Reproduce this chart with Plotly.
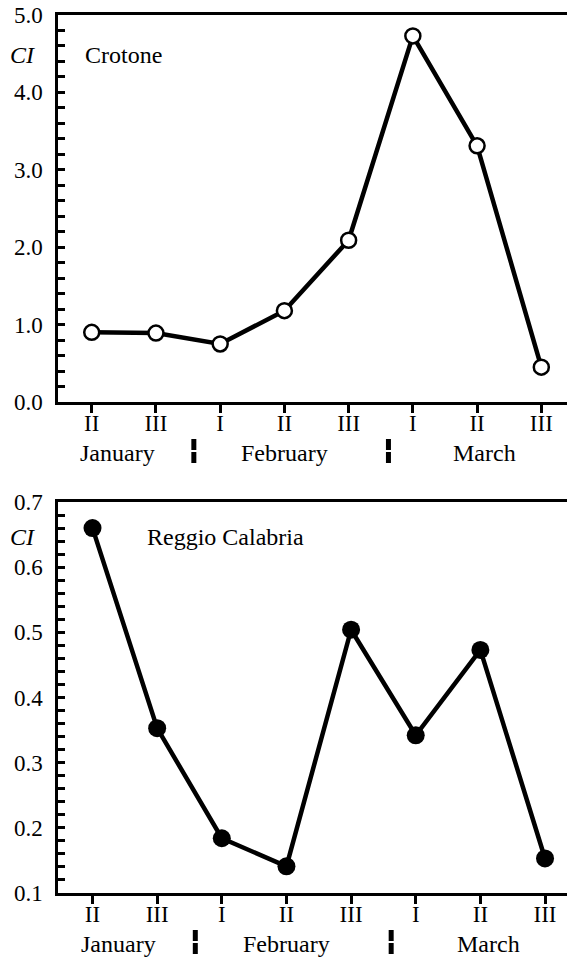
import plotly.graph_objects as go
from plotly.subplots import make_subplots

# ---- data ----
decades = ["II", "III", "I", "II", "III", "I", "II", "III"]
crotone_ci = [0.90, 0.89, 0.75, 1.18, 2.09, 4.73, 3.31, 0.45]
reggio_ci = [0.660, 0.353, 0.184, 0.141, 0.504, 0.342, 0.473, 0.153]
months = ["January", "February", "March"]
month_centers = [0.4, 3.0, 6.12]
month_breaks = [1.59, 4.62]

xs = list(range(len(decades)))
FONT = "Liberation Serif"
W, H = 567, 958
TICK_SIZE = 23
TEXT_SIZE = 24

fig = make_subplots(rows=2, cols=1)

fig.add_trace(go.Scatter(
    x=xs, y=crotone_ci, mode="lines+markers",
    line=dict(color="black", width=4.5),
    marker=dict(symbol="circle", size=15, color="white",
                line=dict(color="black", width=2.5)),
    showlegend=False), row=1, col=1)

fig.add_trace(go.Scatter(
    x=xs, y=reggio_ci, mode="lines+markers",
    line=dict(color="black", width=4.5),
    marker=dict(symbol="circle", size=18, color="black"),
    showlegend=False), row=2, col=1)

top_dom = [1 - 402 / H, 1 - 15 / H]
bot_dom = [1 - 893 / H, 1 - 502 / H]
xr_top = [-0.525, 7.40]
xr_bot = [-0.534, 7.34]

xcommon = dict(
    tickmode="array", tickvals=xs, ticktext=decades,
    showline=True, linecolor="black", linewidth=2.5, mirror=True,
    ticks="outside", ticklen=8, tickwidth=2.5, tickcolor="black",
    showgrid=False, zeroline=False, automargin=False,
    tickfont=dict(family=FONT, size=TICK_SIZE, color="black"),
    ticklabelstandoff=-9,
    domain=[58 / W, 1.0],
)
fig.update_xaxes(**xcommon, range=xr_top, row=1, col=1)
fig.update_xaxes(**xcommon, range=xr_bot, row=2, col=1)

ycommon = dict(
    showline=True, linecolor="black", linewidth=2.5,
    ticks="inside", ticklen=7, tickwidth=2.5, tickcolor="black",
    showgrid=False, zeroline=False, automargin=False,
    tickfont=dict(family=FONT, size=TICK_SIZE, color="black"),
    ticklabelstandoff=8,
)
fig.update_yaxes(**ycommon, range=[0, 5.0], tick0=0, dtick=1.0, tickformat=".1f",
                 minor=dict(dtick=0.2, ticks="inside", ticklen=7, tickwidth=2.5,
                            tickcolor="black", showgrid=False),
                 domain=top_dom, row=1, col=1)
fig.update_yaxes(**ycommon, range=[0.1, 0.7], tick0=0.1, dtick=0.1, tickformat=".1f",
                 minor=dict(dtick=0.02, ticks="inside", ticklen=7, tickwidth=2.5,
                            tickcolor="black", showgrid=False),
                 domain=bot_dom, row=2, col=1)

annotations = []
shapes = []
for dom, xr, xref, yl, title, tx in [
    (top_dom, xr_top, "x", 55, "Crotone", 123),
    (bot_dom, xr_bot, "x2", 537, "Reggio Calabria", 225),
]:
    ylab = dom[0] - 51 / H
    for m, c in zip(months, month_centers):
        annotations.append(dict(x=c, y=ylab, xref=xref, yref="paper", text=m,
                                showarrow=False, xanchor="center", yanchor="middle",
                                font=dict(family=FONT, size=TEXT_SIZE, color="black")))
    xd = xref + " domain"
    for b in month_breaks:
        f = (b - xr[0]) / (xr[1] - xr[0])
        yc = dom[0] - 49 / H
        for y0, y1 in [(yc - 12 / H, yc - 1 / H), (yc + 1 / H, yc + 12 / H)]:
            shapes.append(dict(type="rect", xref=xd, yref="paper",
                               x0=f - 2.5 / (W - 58), x1=f + 2.5 / (W - 58),
                               y0=y0, y1=y1, fillcolor="black", line=dict(width=0)))
    annotations.append(dict(x=22 / W, y=1 - yl / H, xref="paper", yref="paper",
                            text="<i>CI</i>", showarrow=False, xanchor="center",
                            yanchor="middle",
                            font=dict(family=FONT, size=TEXT_SIZE, color="black")))
    annotations.append(dict(x=tx / W, y=1 - yl / H, xref="paper", yref="paper",
                            text=title, showarrow=False, xanchor="center",
                            yanchor="middle",
                            font=dict(family=FONT, size=TEXT_SIZE, color="black")))

fig.update_layout(
    width=W, height=H,
    margin=dict(l=0, r=0, t=0, b=0, autoexpand=False),
    paper_bgcolor="white", plot_bgcolor="white",
    annotations=annotations, shapes=shapes,
    font=dict(family=FONT, color="black"),
)

fig.write_html("out.html", config={"displayModeBar": False},
               post_script="document.body.style.margin='0';document.body.style.overflow='hidden';")
